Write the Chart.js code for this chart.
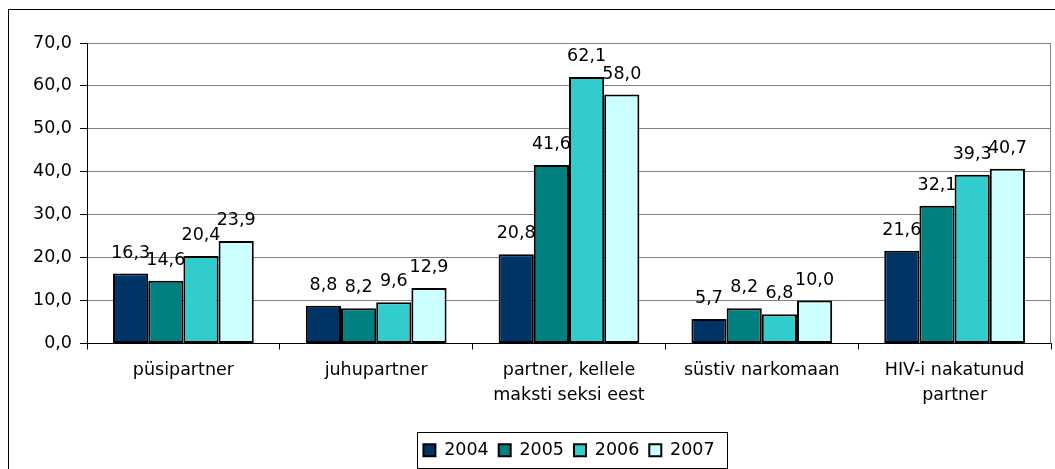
<!DOCTYPE html>
<html>
<head>
<meta charset="utf-8">
<script src="https://cdn.jsdelivr.net/npm/chart.js@4.4.1/dist/chart.umd.min.js"></script>
<style>
html,body{margin:0;padding:0;background:#fff;}
#wrap{width:1055px;height:469px;position:relative;}
</style>
</head>
<body>
<div id="wrap"><canvas id="c" width="1055" height="469"></canvas></div>
<script>
const categories = ['püsipartner', 'juhupartner', ['partner, kellele', 'maksti seksi eest'], 'süstiv narkomaan', ['HIV-i nakatunud', 'partner']];
const seriesNames = ['2004', '2005', '2006', '2007'];
const values2004 = [16.3, 8.8, 20.8, 5.7, 21.6];
const values2005 = [14.6, 8.2, 41.6, 8.2, 32.1];
const values2006 = [20.4, 9.6, 62.1, 6.8, 39.3];
const values2007 = [23.9, 12.9, 58.0, 10.0, 40.7];
const yTicks = [0, 10, 20, 30, 40, 50, 60, 70];
const colors = ['#003366', '#008080', '#33CCCC', '#CCFFFF'];

const FONT = 'DejaVu Sans';
const FSIZE = 17.5;
const fmt = v => Number(v).toFixed(1).replace('.', ',');

const bgPlugin = {
  id: 'bg',
  beforeDraw(chart) {
    const ctx = chart.ctx;
    ctx.save();
    ctx.fillStyle = '#fff';
    ctx.fillRect(0, 0, chart.width, chart.height);
    ctx.strokeStyle = '#000';
    ctx.lineWidth = 1;
    ctx.strokeRect(8.5, 9.5, 2000, 2000);
    ctx.restore();
  },
  afterDraw(chart) {
    const ctx = chart.ctx;
    const a = chart.chartArea;
    ctx.save();
    ctx.strokeStyle = '#808080';
    ctx.lineWidth = 1;
    ctx.beginPath();
    ctx.moveTo(Math.round(a.right) - 0.5, a.top);
    ctx.lineTo(Math.round(a.right) - 0.5, a.bottom);
    ctx.stroke();
    const lg = chart.legend;
    if (lg && lg.legendHitBoxes && lg.legendHitBoxes.length) {
      const hb = lg.legendHitBoxes;
      let l = Infinity, r = -Infinity, t = Infinity, b = -Infinity;
      hb.forEach(h => { l = Math.min(l, h.left); r = Math.max(r, h.left + h.width); t = Math.min(t, h.top); b = Math.max(b, h.top + h.height); });
      const cy = (t + b) / 2;
      ctx.strokeStyle = '#000';
      ctx.strokeRect(Math.round(l - 6) + 0.5, Math.round(cy - 18) + 0.5, Math.round(r - l + 19), 36);
    }
    ctx.restore();
  }
};

const labelPlugin = {
  id: 'valueLabels',
  afterDatasetsDraw(chart) {
    const ctx = chart.ctx;
    ctx.save();
    ctx.fillStyle = '#000';
    ctx.font = FSIZE + 'px "' + FONT + '"';
    ctx.textAlign = 'center';
    ctx.textBaseline = 'alphabetic';
    chart.data.datasets.forEach((ds, i) => {
      const meta = chart.getDatasetMeta(i);
      meta.data.forEach((el, j) => {
        ctx.fillText(fmt(ds.data[j]), el.x, el.y - 16);
      });
    });
    ctx.restore();
  }
};

const seriesValues = [values2004, values2005, values2006, values2007];

new Chart(document.getElementById('c'), {
  type: 'bar',
  data: {
    labels: categories,
    datasets: seriesNames.map((n, i) => ({
      label: n,
      data: seriesValues[i],
      backgroundColor: colors[i],
      borderColor: '#000',
      borderWidth: 2,
      borderSkipped: false,
      barPercentage: 1.0,
      categoryPercentage: 0.73
    }))
  },
  options: {
    responsive: false,
    animation: false,
    devicePixelRatio: 1,
    layout: { padding: { left: 0, right: 4, top: 43, bottom: 0 } },
    plugins: {
      legend: {
        position: 'bottom',
        fullSize: false,
        labels: {
          boxWidth: 12,
          boxHeight: 12,
          padding: 10,
          color: '#000',
          font: { family: FONT, size: FSIZE }
        }
      },
      tooltip: { enabled: false }
    },
    scales: {
      x: {
        offset: true,
        grid: { offset: true, drawOnChartArea: false, drawTicks: true, tickLength: 6, color: '#000' },
        border: { display: true, color: '#000', width: 1 },
        ticks: { color: '#000', font: { family: FONT, size: FSIZE, lineHeight: 1.43 }, padding: 8, maxRotation: 0, autoSkip: false },
        afterFit(s) { s.height = 88; }
      },
      y: {
        min: 0, max: 70,
        afterBuildTicks(s) { s.ticks = yTicks.map(v => ({ value: v })); },
        grid: { color: '#808080', tickColor: '#000', tickLength: 7, drawTicks: true },
        border: { display: true, color: '#000', width: 1 },
        ticks: { color: '#000', font: { family: FONT, size: FSIZE }, padding: 8, callback: v => fmt(v) },
        afterFit(s) { s.width = 87; }
      }
    }
  },
  plugins: [bgPlugin, labelPlugin]
});
</script>
</body>
</html>
